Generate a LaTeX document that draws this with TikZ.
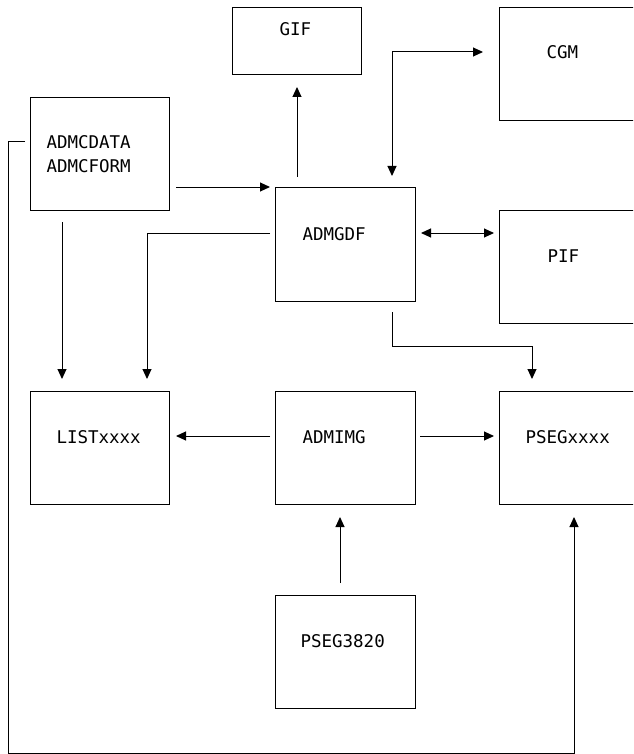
\documentclass[tikz,border=0pt]{standalone}
\usepackage{fontspec}
\newfontfamily\monofont{DejaVu Sans Mono}
\usetikzlibrary{arrows.meta,calc}
\begin{document}
\begin{tikzpicture}[x=1pt,y=-1pt,
  line width=1pt,
  box/.style={draw, rectangle, anchor=north west, inner sep=0pt},
  lbl/.style={anchor=base west, inner sep=0pt, font=\monofont\fontsize{17.5}{21}\selectfont},
  conn/.style={-{Triangle[length=10pt,width=9pt]}},
  conn2/.style={{Triangle[length=10pt,width=9pt]}-{Triangle[length=10pt,width=9pt]}}]
\useasboundingbox (0,0) rectangle (633,754);
\clip (0,0) rectangle (633,754);
% boxes
\node[box, minimum width=129pt, minimum height=67pt] (gif) at (232,7) {};
\node[box, minimum width=139pt, minimum height=113pt] (adm) at (30,97) {};
\node[box, minimum width=160pt, minimum height=113pt] (cgm) at (499,7) {};
\node[box, minimum width=140pt, minimum height=114pt] (gdf) at (275,187) {};
\node[box, minimum width=160pt, minimum height=113pt] (pif) at (499,210) {};
\node[box, minimum width=139pt, minimum height=113pt] (list) at (30,391) {};
\node[box, minimum width=140pt, minimum height=113pt] (img) at (275,391) {};
\node[box, minimum width=160pt, minimum height=113pt] (pseg) at (499,391) {};
\node[box, minimum width=140pt, minimum height=113pt] (p3820) at (275,595) {};
% labels
\node[lbl] (giftxt) at (279,36) {GIF};
\node[lbl] (admtxta) at (46,149) {ADMCDATA};
\node[lbl] (admtxtb) at (46,172) {ADMCFORM};
\node[lbl] (cgmtxt) at (546,59) {CGM};
\node[lbl] (gdftxt) at (302,240) {ADMGDF};
\node[lbl] (piftxt) at (547,262) {PIF};
\node[lbl] (listtxt) at (56,443) {LISTxxxx};
\node[lbl] (imgtxt) at (302,443) {ADMIMG};
\node[lbl] (psegtxt) at (525,443) {PSEGxxxx};
\node[lbl] (p3820txt) at (300,647) {PSEG3820};
% helper coordinates
\coordinate (gifx) at (297,0);
\coordinate (cgmc) at (392,52);
\coordinate (lc) at (147,233);
\coordinate (adx) at (62,0);
\coordinate (pifx) at (0,233);
\coordinate (gdfc) at (392,346);
\coordinate (psx) at (532,0);
\coordinate (imx) at (0,436);
\coordinate (p3x) at (340,0);
\coordinate (loopa) at (8,142);
\coordinate (loopb) at (574,753);
% connectors
\draw[conn, shorten <=6pt, shorten >=5pt] (adm.east |- gdf.north) -- (gdf.north west);
\draw[conn, shorten <=10pt, shorten >=12pt] (gifx |- gdf.north) -- (gifx |- gif.south);
\draw[conn2, shorten <=11pt, shorten >=16pt] (cgmc |- gdf.north) -- (cgmc) -- (cgmc -| cgm.west);
\draw[conn, shorten <=5pt, shorten >=12pt] (lc -| gdf.west) -- (lc) -- (lc |- list.north);
\draw[conn, shorten <=11pt, shorten >=12pt] (adx |- adm.south) -- (adx |- list.north);
\draw[conn2, shorten <=5pt, shorten >=5pt] (pifx -| gdf.east) -- (pifx -| pif.west);
\draw[conn, shorten <=10pt, shorten >=12pt] (gdfc |- gdf.south) -- (gdfc) -- (gdfc -| psx) -- (psx |- pseg.north);
\draw[conn, shorten <=5pt, shorten >=6pt] (imx -| img.west) -- (imx -| list.east);
\draw[conn, shorten <=4pt, shorten >=5pt] (imx -| img.east) -- (imx -| pseg.west);
\draw[conn, shorten <=12pt, shorten >=12pt] (p3x |- p3820.north) -- (p3x |- img.south);
\draw[conn, shorten <=5pt, shorten >=12pt] (loopa -| adm.west) -- (loopa) -- (loopa |- loopb) -- (loopb) -- (loopb |- pseg.south);
\end{tikzpicture}
\end{document}
